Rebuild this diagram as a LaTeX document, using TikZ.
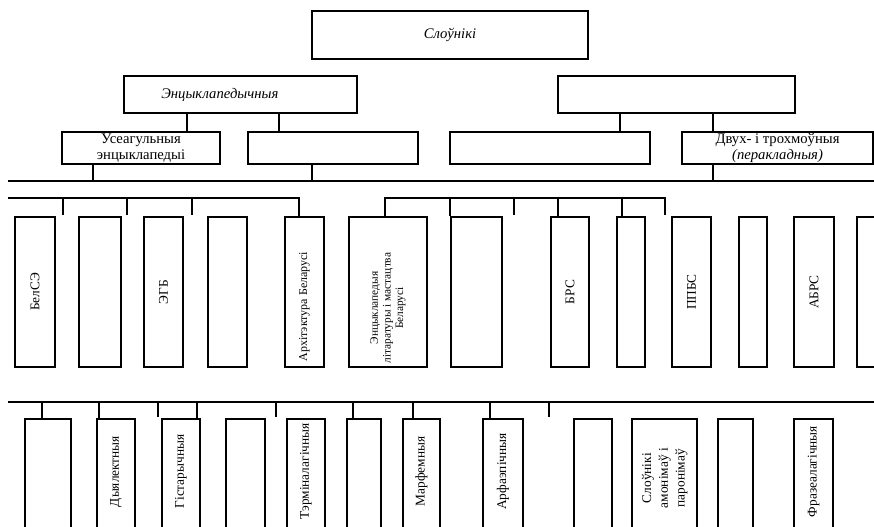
\documentclass[tikz,border=0pt]{standalone}
\usepackage{fontspec}
\setmainfont{Liberation Serif}
\tikzset{
  box/.style={draw, inner sep=0pt, align=center, font=\fontsize{11}{12.5}\selectfont},
  vbox/.style={box, font=\fontsize{10}{11}\selectfont},
  tbox/.style={box, font=\fontsize{8.5}{9.5}\selectfont},
}
\newcommand\dictbox[7][box]{%
  \node[#1, minimum width={(#5-#3)*0.75pt}, minimum height={(#6-#4)*0.75pt}]
    (#2) at ({(#3+#5)/2},{(#4+#6)/2}) {#7};}
\newcommand\up[1]{\rotatebox{90}{#1}}
\newcommand\lines[1]{\begin{tabular}{@{}c@{}}#1\end{tabular}}
\begin{document}
\begin{tikzpicture}[x=0.75pt, y=-0.75pt, line width=1pt]
  \useasboundingbox (0,0) rectangle (874,526);
  \clip (0,0) rectangle (874,526);
  \dictbox{slov}{312}{11}{588}{59}{\itshape Слоўнікі}
  \dictbox{encyk}{124}{76}{357}{113}{\itshape Энцыклапедычныя\hspace*{31pt}}
  \dictbox{lingv}{558}{76}{795}{113}{}
  \dictbox{useag}{62}{132}{220}{164}{Усеагульныя\\энцыклапедыі}
  \dictbox{galin}{248}{132}{418}{164}{}
  \dictbox{tlum}{450}{132}{650}{164}{}
  \dictbox{dvukh}{682}{132}{873}{164}{Двух- і трохмоўныя\\{\itshape (перакладныя)}}
  \dictbox[vbox]{belse}{15}{217}{55}{367}{\up{БелСЭ}}
  \dictbox[vbox]{ea}{79}{217}{121}{367}{}
  \dictbox[vbox]{egb}{144}{217}{183}{367}{\up{ЭГБ}}
  \dictbox[vbox]{eb}{208}{217}{247}{367}{}
  \dictbox[vbox, font=\fontsize{9}{10}\selectfont]{arch}{285}{217}{324}{367}{\up{Архітэктура Беларусі\hspace*{22pt}}}
  \dictbox[tbox]{elim}{349}{217}{427}{367}{\up{\lines{Энцыклапедыя\\літаратуры і мастацтва\\Беларусі}\hspace*{24pt}}}
  \dictbox[vbox]{ec}{451}{217}{502}{367}{}
  \dictbox[vbox]{brs}{551}{217}{589}{367}{\up{БРС}}
  \dictbox[vbox]{ed}{617}{217}{645}{367}{}
  \dictbox[vbox]{ppbs}{672}{217}{711}{367}{\up{ППБС}}
  \dictbox[vbox]{ee}{739}{217}{767}{367}{}
  \dictbox[vbox]{abrs}{794}{217}{834}{367}{\up{АБРС}}
  \dictbox[vbox]{ef}{857}{217}{900}{367}{}
  \dictbox[vbox]{fa}{25}{419}{71}{560}{}
  \dictbox[vbox]{dyal}{97}{419}{135}{560}{\up{\hspace*{27pt}Дыялектныя}}
  \dictbox[vbox]{gist}{162}{419}{200}{560}{\up{\hspace*{27pt}Гістарычныя}}
  \dictbox[vbox]{fb}{226}{419}{265}{560}{}
  \dictbox[vbox]{term}{287}{419}{325}{560}{\up{\hspace*{27pt}Тэрміналагічныя}}
  \dictbox[vbox]{fc}{347}{419}{381}{560}{}
  \dictbox[vbox]{marf}{403}{419}{440}{560}{\up{\hspace*{27pt}Марфемныя}}
  \dictbox[vbox]{arf}{483}{419}{523}{560}{\up{\hspace*{27pt}Арфаэпічныя}}
  \dictbox[vbox]{fd}{574}{419}{612}{560}{}
  \dictbox[vbox, font=\fontsize{10}{12.5}\selectfont]{amon}{632}{419}{697}{560}{\up{\hspace*{17pt}\lines{Слоўнікі\\амонімаў і\\паронімаў}}}
  \dictbox[vbox]{fe}{718}{419}{753}{560}{}
  \dictbox[vbox]{fraz}{794}{419}{833}{560}{\up{\hspace*{27pt}Фразеалагічныя}}
  \draw (encyk.south -| 187,0) -- (useag.north -| 187,0);
  \draw (encyk.south -| 279,0) -- (galin.north -| 279,0);
  \draw (lingv.south -| 620,0) -- (tlum.north -| 620,0);
  \draw (lingv.south -| 713,0) -- (dvukh.north -| 713,0);
  \coordinate (la) at (8,181);
  \coordinate (ra) at (874,181);
  \draw (la) -- (ra);
  \draw (useag.south -| 93,0) -- (la -| 93,0);
  \draw (galin.south -| 312,0) -- (la -| 312,0);
  \draw (dvukh.south -| 713,0) -- (la -| 713,0);
  \coordinate (lb) at (8,198);
  \coordinate (mb) at (299,198);
  \coordinate (nb) at (385,198);
  \coordinate (rb) at (665,198);
  \draw (lb) -- (mb) -- (mb |- arch.north);
  \draw (nb |- elim.north) -- (nb) -- (rb) -- ++(0,17);
  \foreach \x in {63,127,192,514} \draw (lb -| \x,0) -- ++(0,17);
  \foreach \x/\n in {450/ec,558/brs,622/ed} \draw (lb -| \x,0) -- (\n.north -| \x,0);
  \coordinate (lc) at (8,402);
  \coordinate (rc) at (874,402);
  \draw (lc) -- (rc);
  \foreach \x/\n in {42/fa,99/dyal,197/gist,353/fc,413/marf,490/arf} \draw (lc -| \x,0) -- (\n.north -| \x,0);
  \foreach \x in {158,276,549} \draw (lc -| \x,0) -- ++(0,15);
\end{tikzpicture}
\end{document}
